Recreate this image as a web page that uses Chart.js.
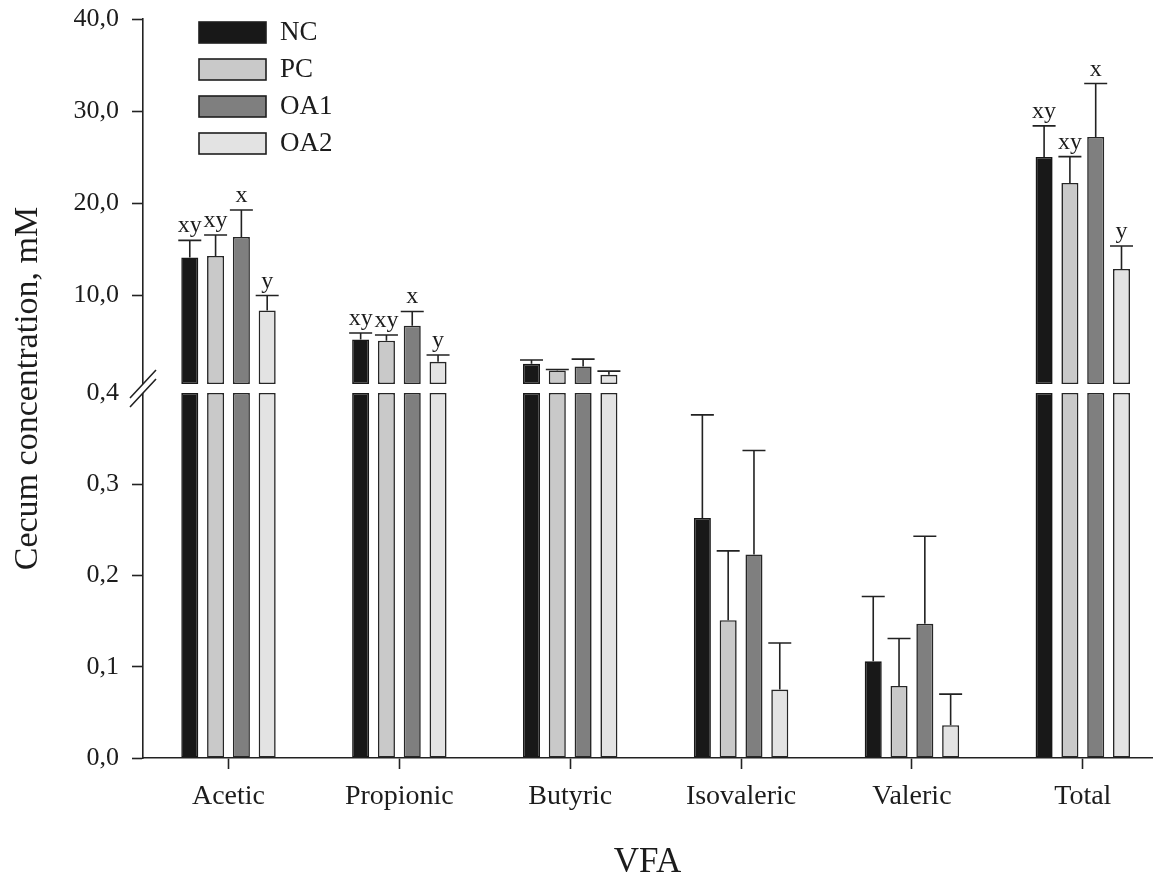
<!DOCTYPE html>
<html>
<head>
<meta charset="utf-8">
<script src="https://cdn.jsdelivr.net/npm/chart.js@4.4.1/dist/chart.umd.min.js"></script>
<style>html,body{margin:0;padding:0;background:#fff;}canvas{display:block;}</style>
</head>
<body>
<canvas id="c" width="1171" height="880"></canvas>
<script>
// ---------- data ----------
const CATEGORIES = ['Acetic', 'Propionic', 'Butyric', 'Isovaleric', 'Valeric', 'Total'];
const SERIES = ['NC', 'PC', 'OA1', 'OA2'];

const NC_MEAN  = [14.13, 5.23, 2.59, 0.263, 0.106, 25.04];
const NC_SEM   = [1.85, 0.70, 0.41, 0.113, 0.071, 3.36];
const PC_MEAN  = [14.29, 5.09, 1.87, 0.151, 0.079, 22.21];
const PC_SEM   = [2.28, 0.62, 0.10, 0.076, 0.052, 2.86];
const OA1_MEAN = [16.35, 6.72, 2.30, 0.223, 0.147, 27.21];
const OA1_SEM  = [2.93, 1.55, 0.80, 0.114, 0.096, 5.79];
const OA2_MEAN = [8.38, 2.81, 1.40, 0.075, 0.036, 12.88];
const OA2_SEM  = [1.62, 0.73, 0.40, 0.051, 0.034, 2.49];

const NC_LETTERS  = ['xy', 'xy', '', '', '', 'xy'];
const PC_LETTERS  = ['xy', 'xy', '', '', '', 'xy'];
const OA1_LETTERS = ['x', 'x', '', '', '', 'x'];
const OA2_LETTERS = ['y', 'y', '', '', '', 'y'];

const Y_TICKS = [0, 0.1, 0.2, 0.3, 0.4, 10, 20, 30, 40];
const Y_TICK_LABELS = ['0,0', '0,1', '0,2', '0,3', '0,4', '10,0', '20,0', '30,0', '40,0'];
const BREAK = 0.4;
const Y_MAX = 40;

// ---------- style ----------
const FONT = "'Liberation Serif', 'Times New Roman', serif";
const INK = '#1c1c1c';
const FILLS = ['#181818', '#c9c9c9', '#7f7f7f', '#e3e3e3'];
const BORDERS = ['#181818', '#262626', '#262626', '#262626'];
const GAP_PX = 9;
const X_MIN = -0.5003, X_MAX = 5.405;

const SERIES_DATA = [
  { name: SERIES[0], mean: NC_MEAN,  sem: NC_SEM,  letters: NC_LETTERS },
  { name: SERIES[1], mean: PC_MEAN,  sem: PC_SEM,  letters: PC_LETTERS },
  { name: SERIES[2], mean: OA1_MEAN, sem: OA1_SEM, letters: OA1_LETTERS },
  { name: SERIES[3], mean: OA2_MEAN, sem: OA2_SEM, letters: OA2_LETTERS }
];

// ---------- broken linear scale ----------
class BrokenScale extends Chart.LinearScale {
  determineDataLimits() { this.min = 0; this.max = Y_MAX; }
  buildTicks() { return Y_TICKS.map(v => ({ value: v })); }
  getPadding() { return { left: 0, top: 0, right: 0, bottom: 0 }; }
  _seg() { return (this.bottom - this.top - GAP_PX) / 2; }
  getPixelForValue(value) {
    const seg = this._seg();
    if (value <= BREAK) return this.bottom - (value / BREAK) * seg;
    return this.bottom - seg - GAP_PX - ((value - BREAK) / (Y_MAX - BREAK)) * seg;
  }
  getValueForPixel(pixel) {
    const seg = this._seg();
    const d = this.bottom - pixel;
    if (d <= seg) return d / seg * BREAK;
    return BREAK + (d - seg - GAP_PX) / seg * (Y_MAX - BREAK);
  }
}
BrokenScale.id = 'broken';
BrokenScale.defaults = {};
Chart.register(BrokenScale);

// ---------- datasets ----------
const UP_START = BREAK + 1e-9;
const datasets = [];
SERIES_DATA.forEach((sd, s) => {
  const common = {
    stack: 's' + s,
    backgroundColor: FILLS[s],
    borderColor: BORDERS[s],
    borderWidth: 1.6,
    borderSkipped: false,
    categoryPercentage: 0.604,
    barPercentage: 0.66
  };
  datasets.push(Object.assign({
    label: sd.name,
    data: CATEGORIES.map((c, i) => ({ x: i, y: [0, Math.min(sd.mean[i], BREAK)] }))
  }, common));
  datasets.push(Object.assign({
    label: sd.name + ' upper',
    data: CATEGORIES.map((c, i) => ({ x: i, y: sd.mean[i] > BREAK ? [UP_START, sd.mean[i]] : null }))
  }, common));
});

// ---------- plugins ----------
const errorBars = {
  id: 'errorBars',
  afterDatasetsDraw(chart) {
    const ctx = chart.ctx, yS = chart.scales.y;
    SERIES_DATA.forEach((sd, s) => {
      CATEGORIES.forEach((c, i) => {
        const v = sd.mean[i], e = sd.sem[i];
        const meta = chart.getDatasetMeta(v > BREAK ? 2 * s + 1 : 2 * s);
        const el = meta.data[i];
        if (!el) return;
        const x = el.x;
        const y0 = yS.getPixelForValue(v), y1 = yS.getPixelForValue(v + e);
        ctx.save();
        ctx.strokeStyle = '#222';
        ctx.lineWidth = 1.6;
        ctx.beginPath();
        ctx.moveTo(x, y0); ctx.lineTo(x, y1);
        ctx.moveTo(x - 11.5, y1); ctx.lineTo(x + 11.5, y1);
        ctx.stroke();
        if (sd.letters[i]) {
          ctx.fillStyle = INK;
          ctx.font = '24px ' + FONT;
          ctx.textAlign = 'center';
          ctx.textBaseline = 'alphabetic';
          ctx.fillText(sd.letters[i], x, y1 - 8);
        }
        ctx.restore();
      });
    });
  }
};

const axisBreak = {
  id: 'axisBreak',
  afterDraw(chart) {
    const ctx = chart.ctx, yS = chart.scales.y;
    const xA = chart.chartArea.left;
    const yLowTop = yS.getPixelForValue(BREAK);
    const yUpBase = yS.getPixelForValue(UP_START);
    ctx.save();
    ctx.fillStyle = '#fff';
    ctx.fillRect(xA - 3, yUpBase, 6, yLowTop - yUpBase);
    ctx.strokeStyle = '#222';
    ctx.lineWidth = 1.6;
    ctx.beginPath();
    [yUpBase, yLowTop].forEach(yc => {
      ctx.moveTo(xA - 13, yc + 14);
      ctx.lineTo(xA + 13, yc - 14);
    });
    ctx.stroke();
    ctx.restore();
  }
};

const boxLegend = {
  id: 'boxLegend',
  afterDraw(chart) {
    const ctx = chart.ctx;
    ctx.save();
    SERIES.forEach((name, s) => {
      const y = 22 + s * 37;
      ctx.fillStyle = FILLS[s];
      ctx.fillRect(199, y, 67, 21);
      ctx.strokeStyle = '#1e1e1e';
      ctx.lineWidth = 1.6;
      ctx.strokeRect(199, y, 67, 21);
      ctx.fillStyle = INK;
      ctx.font = '27px ' + FONT;
      ctx.textAlign = 'left';
      ctx.textBaseline = 'middle';
      ctx.fillText(name, 280, y + 11);
    });
    ctx.restore();
  }
};

// ---------- chart ----------
new Chart(document.getElementById('c'), {
  type: 'bar',
  data: { datasets },
  options: {
    responsive: false,
    animation: false,
    devicePixelRatio: 1,
    layout: { padding: { left: 0, right: 19, top: 19, bottom: 0 } },
    plugins: { legend: { display: false }, tooltip: { enabled: false } },
    scales: {
      x: {
        type: 'linear',
        min: X_MIN,
        max: X_MAX,
        offset: false,
        stacked: true,
        grid: { display: true, offset: false, drawOnChartArea: false, drawTicks: true, tickLength: 11, tickWidth: 1.6, tickColor: '#222' },
        border: { display: true, color: '#222', width: 1.6 },
        afterBuildTicks: s => { s.ticks = CATEGORIES.map((c, i) => ({ value: i })); },
        ticks: {
          autoSkip: false, maxRotation: 0, padding: 11, color: INK,
          font: { family: FONT, size: 28, lineHeight: 1.2 },
          callback: v => CATEGORIES[v] !== undefined ? CATEGORIES[v] : ''
        },
        title: { display: true, text: 'VFA', color: INK, font: { family: FONT, size: 35, lineHeight: 1 }, padding: 0 },
        afterFit: s => { s.height = 122; }
      },
      y: {
        type: 'broken',
        stacked: false,
        grid: {
          display: true, drawOnChartArea: false, drawTicks: true, tickLength: 11, tickWidth: 1.6,
          tickColor: ctx => (ctx.tick && ctx.tick.value === BREAK) ? 'rgba(0,0,0,0)' : '#222'
        },
        border: { display: true, color: '#222', width: 1.6 },
        ticks: {
          autoSkip: false, padding: 13, color: INK,
          font: { family: FONT, size: 26 },
          callback: v => Y_TICK_LABELS[Y_TICKS.indexOf(v)]
        },
        title: { display: true, text: 'Cecum concentration, mM', color: INK, font: { family: FONT, size: 34, lineHeight: 1 }, padding: { top: 11, bottom: 0 } },
        afterFit: s => { s.width = 143; }
      }
    }
  },
  plugins: [errorBars, axisBreak, boxLegend]
});
</script>
</body>
</html>
